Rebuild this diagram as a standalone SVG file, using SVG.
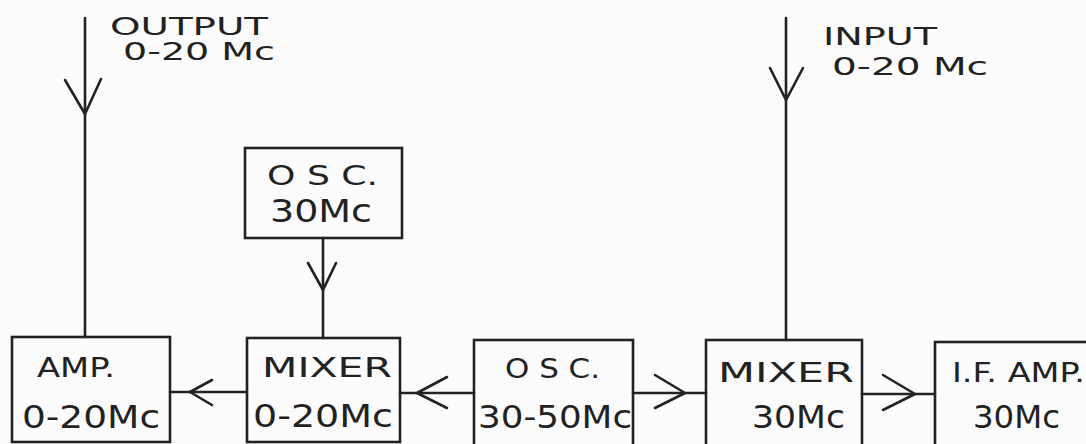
<svg xmlns="http://www.w3.org/2000/svg" width="1086" height="444" viewBox="0 0 1086 444">
<style>
.box{fill:none;stroke:#222;stroke-width:2.6}
.ln{fill:none;stroke:#222;stroke-width:2.6;stroke-linecap:round;stroke-linejoin:round}
.t{font-family:"DejaVu Sans","Liberation Sans",sans-serif;fill:#222}
.s{font-size:24px}
.m{font-size:26px}
.l{font-size:32px}
</style>
<rect width="1086" height="444" fill="#fcfcfc"/>
<g id="connectors">
<line class="ln" x1="85" y1="18" x2="85" y2="337"/>
<polyline class="ln" points="65,80 85,114 101,79"/>
<line class="ln" x1="786" y1="18" x2="786" y2="340"/>
<polyline class="ln" points="770,68 786,100 803,68"/>
<line class="ln" x1="323" y1="238" x2="323" y2="338"/>
<polyline class="ln" points="308,263 323,290 336,263"/>
<line class="ln" x1="170" y1="392" x2="247" y2="392"/>
<polyline class="ln" points="212,380 190,392 212,405"/>
<line class="ln" x1="400" y1="393" x2="474" y2="393"/>
<polyline class="ln" points="447,377 417,393 447,408"/>
<line class="ln" x1="633" y1="393" x2="706" y2="393"/>
<polyline class="ln" points="655,375 685,393 655,408"/>
<line class="ln" x1="862" y1="394" x2="935" y2="394"/>
<polyline class="ln" points="883,375 915,394 883,410"/>
</g>
<g id="output-label">
<text class="t s" x="110" y="35" textLength="158" lengthAdjust="spacingAndGlyphs">OUTPUT</text>
<text class="t s" x="123" y="60" textLength="152" lengthAdjust="spacingAndGlyphs">0-20 Mc</text>
</g>
<g id="input-label">
<text class="t s" x="823" y="45" textLength="114" lengthAdjust="spacingAndGlyphs">INPUT</text>
<text class="t s" x="832" y="75" textLength="156" lengthAdjust="spacingAndGlyphs">0-20 Mc</text>
</g>
<g id="osc30">
<rect class="box" x="245" y="148" width="157" height="90"/>
<text class="t m" x="267" y="185" textLength="111" lengthAdjust="spacingAndGlyphs">O S C.</text>
<text class="t l" x="270" y="222" textLength="102" lengthAdjust="spacingAndGlyphs">30Mc</text>
</g>
<g id="amp">
<rect class="box" x="12" y="337" width="158" height="105"/>
<text class="t m" x="37" y="377" textLength="78" lengthAdjust="spacingAndGlyphs">AMP.</text>
<text class="t l" x="22" y="428" textLength="138" lengthAdjust="spacingAndGlyphs">0-20Mc</text>
</g>
<g id="mixer1">
<rect class="box" x="247" y="338" width="153" height="104"/>
<text class="t m" x="262" y="377" textLength="130" lengthAdjust="spacingAndGlyphs">MIXER</text>
<text class="t l" x="253" y="427" textLength="140" lengthAdjust="spacingAndGlyphs">0-20Mc</text>
</g>
<g id="osc3050">
<rect class="box" x="474" y="340" width="159" height="110"/>
<text class="t m" x="505" y="378" textLength="95" lengthAdjust="spacingAndGlyphs">O S C.</text>
<text class="t l" x="478" y="428" textLength="154" lengthAdjust="spacingAndGlyphs">30-50Mc</text>
</g>
<g id="mixer2">
<rect class="box" x="706" y="340" width="156" height="110"/>
<text class="t m" x="718" y="382" textLength="136" lengthAdjust="spacingAndGlyphs">MIXER</text>
<text class="t l" x="752" y="428" textLength="93" lengthAdjust="spacingAndGlyphs">30Mc</text>
</g>
<g id="ifamp">
<rect class="box" x="935" y="342" width="200" height="110"/>
<text class="t m" x="952" y="382" textLength="133" lengthAdjust="spacingAndGlyphs">I.F. AMP.</text>
<text class="t l" x="973" y="428" textLength="87" lengthAdjust="spacingAndGlyphs">30Mc</text>
</g>
</svg>
